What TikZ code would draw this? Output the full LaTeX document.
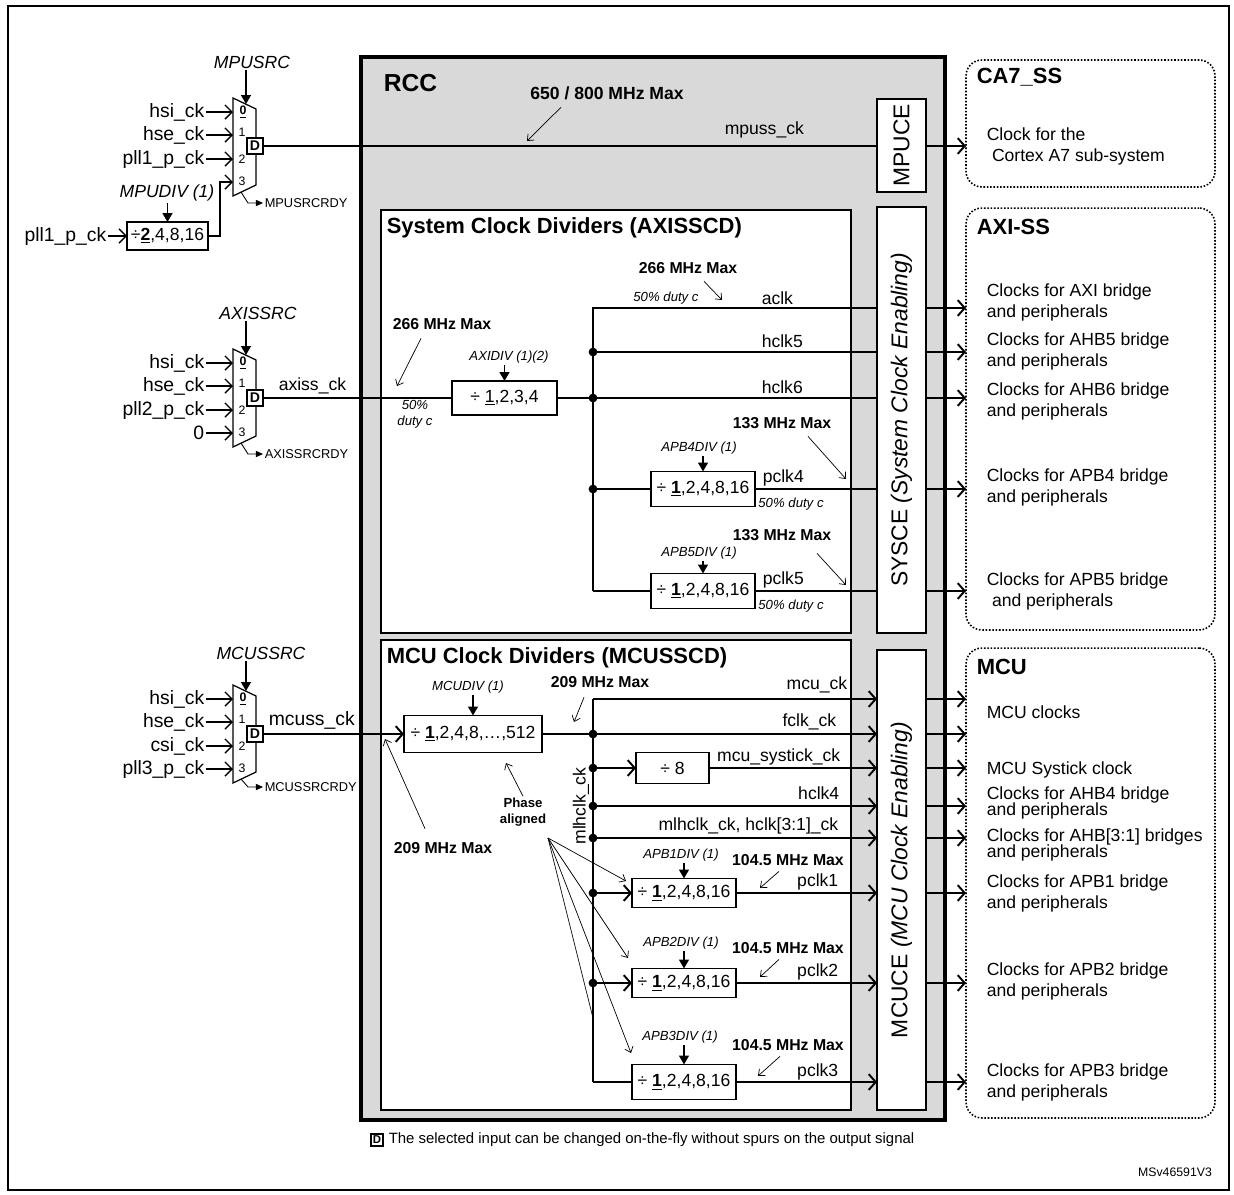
\documentclass[tikz,border=0pt]{standalone}
\usepackage{fontspec}
\setmainfont{Liberation Sans}
\usepackage{xcolor}
\usepackage{tikz}
\usetikzlibrary{arrows.meta, positioning, calc}
\definecolor{rccfill}{HTML}{D9D9D9}

\begin{document}
\begin{tikzpicture}[
    x=0.02cm, y=-0.02cm,
    font=\fontsize{10}{12}\selectfont,
    every node/.style={inner sep=1pt, outer sep=0pt},
    sig/.style={line width=1.3pt},
    sigarrow/.style={line width=1.3pt, -{Straight Barb[length=4pt,width=9pt,line width=1.1pt]}},
    inarrow/.style={line width=0.8pt, -{Straight Barb[length=4pt,width=8pt]}},
    ctrl/.style={line width=1pt, -{Triangle[length=5pt,width=5.5pt]}},
    note/.style={line width=0.4pt, -{Straight Barb[length=3pt,width=5pt]}},
    rdyarrow/.style={line width=0.5pt, -{Triangle[length=4pt,width=3.5pt]}},
    jdot/.style={circle, fill, inner sep=0pt, minimum size=5pt},
    mux/.style={line width=0.7pt, fill=white},
    muxnum/.style={font=\fontsize{7}{8}\selectfont, inner sep=0pt},
    inlbl/.style={anchor=east, font=\fontsize{11}{13}\selectfont},
    seltxt/.style={font=\itshape\fontsize{10}{12}\selectfont},
    rdytxt/.style={anchor=west, font=\fontsize{7.3}{9}\selectfont},
    dflag/.style={draw, line width=0.6pt, fill=white, font=\bfseries\fontsize{8}{9}\selectfont, minimum size=0.32cm, inner sep=0pt},
    divbox/.style={draw, line width=0.7pt, fill=white, inner sep=0pt, minimum width=2.08cm, minimum height=0.7cm},
    divctl/.style={font=\itshape\fontsize{7.5}{9}\selectfont},
    maxtxt/.style={font=\bfseries\fontsize{9}{11}\selectfont},
    dutytxt/.style={font=\itshape\fontsize{7.5}{9}\selectfont},
    head/.style={anchor=west, font=\bfseries\fontsize{12.5}{15}\selectfont},
    enbox/.style={draw, line width=0.7pt, fill=white, minimum width=0.98cm, inner sep=0pt},
    entxt/.style={rotate=90, font=\fontsize{13}{15}\selectfont},
    subsys/.style={draw, densely dotted, line width=0.9pt, rounded corners=9pt, minimum width=4.98cm},
    sstxt/.style={anchor=west, align=left},
    tight/.style={anchor=west, align=left, font=\fontsize{10}{9.4}\selectfont}
]
\useasboundingbox (0,0) rectangle (1234,1194);
\draw[line width=1pt] (8,6) rectangle (1229,1190);

% RCC block and its inner blocks
\node[draw, line width=2.3pt, fill=rccfill, minimum width=11.68cm, minimum height=21.26cm] (rcc) at (653,588.5) {};
\node[head, font=\bfseries\fontsize{14}{16}\selectfont] (rcctxt) at (382,83) {RCC};
\node[draw, line width=0.7pt, fill=white, minimum width=9.4cm, minimum height=8.46cm] (scd) at (616,421.5) {};
\node[head] (scdtxt) at (385,228) {System Clock Dividers (AXISSCD)};
\node[draw, line width=0.7pt, fill=white, minimum width=9.4cm, minimum height=9.4cm] (mcd) at (616,875) {};
\node[head] (mcdtxt) at (385,658) {MCU Clock Dividers (MCUSSCD)};

\node[enbox, minimum height=1.86cm] (mpuce) at (901.5,145.5) {};
\node[entxt] (mpucetxt) at (mpuce) {MPUCE};
\node[enbox, minimum height=8.52cm] (sysce) at (901.5,420) {};
\node[entxt] (syscetxt) at (sysce) {SYSCE \textit{(System Clock Enabling)}};
\node[enbox, minimum height=9.2cm] (mcuce) at (901.5,880) {};
\node[entxt] (mcucetxt) at (mcuce) {MCUCE \textit{(MCU Clock Enabling)}};

% sub-systems
\node[subsys, minimum height=2.54cm] (ca7) at (1090.5,123.5) {};
\node[head] (ca7txt) at (975,77) {CA7\_SS};
\node[sstxt] (ca7desc) at (985,146) {Clock for the\\\hspace*{3pt}Cortex A7 sub-system};
\node[subsys, minimum height=8.44cm] (axiss) at (1090.5,419) {};
\node[head] (axitxt) at (975,227) {AXI-SS};
\node[sstxt] (axidesc) at (985,302) {Clocks for AXI bridge\\and peripherals};
\node[sstxt] (ahb5desc) at (985,351) {Clocks for AHB5 bridge\\and peripherals};
\node[sstxt] (ahb6desc) at (985,401) {Clocks for AHB6 bridge\\and peripherals};
\node[sstxt] (apb4desc) at (985,487) {Clocks for APB4 bridge\\and peripherals};
\node[sstxt] (apb5desc) at (985,591) {Clocks for APB5 bridge\\\hspace*{3pt}and peripherals};
\node[subsys, minimum height=9.4cm] (mcuss) at (1090.5,883) {};
\node[head] (mcutxt) at (975,667) {MCU};
\node[sstxt] (mcudesc) at (985,712) {MCU clocks};
\node[sstxt] (tickdesc) at (985,770) {MCU Systick clock};
\node[tight] (ahb4desc) at (985,803) {Clocks for AHB4 bridge\\and peripherals};
\node[tight] (ahb31desc) at (985,845) {Clocks for AHB[3:1] bridges\\and peripherals};
\node[sstxt] (apb1desc) at (985,893) {Clocks for APB1 bridge\\and peripherals};
\node[sstxt] (apb2desc) at (985,981) {Clocks for APB2 bridge\\and peripherals};
\node[sstxt] (apb3desc) at (985,1082) {Clocks for APB3 bridge\\and peripherals};

% MPU clock selection
\draw[mux] (233,98) -- (256,109) -- (256,185) -- (233,196) -- cycle;
\coordinate (mpumux) at (233,147);
\coordinate (mpusel) at (246,104);
\coordinate (mpubot) at (241,192);
\node[seltxt] (mpusrc) at (252,62) {MPUSRC};
\draw[ctrl] (mpusrc.south -| mpusel) -- (mpusel);
\node[inlbl] (mpuin0) at (206,112) {hsi\_ck};
\node[inlbl] (mpuin1) at (206,135) {hse\_ck};
\node[inlbl] (mpuin2) at (206,159) {pll1\_p\_ck};
\draw[inarrow] (mpuin0.east) -- (mpuin0 -| mpumux);
\draw[inarrow] (mpuin1.east) -- (mpuin1 -| mpumux);
\draw[inarrow] (mpuin2.east) -- (mpuin2 -| mpumux);
\node[muxnum] (mpun0) at (243,112) {\underline{\textbf{0}}};
\node[muxnum] (mpun1) at (242,132) {1};
\node[muxnum] (mpun2) at (242,159) {2};
\node[muxnum] (mpun3) at (242,181) {3};
\node[dflag] (mpud) at (255,146) {D};
\node[rdytxt] (mpurdy) at (263,203) {MPUSRCRDY};
\draw[rdyarrow] (mpubot) -- (248,203) -- (mpurdy.west);
\node[divbox, minimum width=1.62cm, minimum height=0.56cm] (mpudiv) at (167.5,236) {÷\underline{\textbf{2}},4,8,16};
\node[seltxt] (mpudivsel) at (167,193) {MPUDIV (1)};
\draw[ctrl] (mpudivsel.south -| mpudiv.north) -- (mpudiv.north);
\node[inlbl] (mpupll) at (108,236) {pll1\_p\_ck};
\draw[inarrow] (mpupll.east) -- (mpudiv.west);
\coordinate (mpuin3) at (233,182);
\draw[inarrow] (mpudiv.east) -- ++(12,0) |- (mpuin3);

\draw[sig] (mpud.east) -- (mpud -| mpuce.west);
\node[anchor=west] (mpussck) at (723,130) {mpuss\_ck};
\draw[sigarrow] (mpud -| mpuce.east) -- (mpud -| ca7.west);
\node[maxtxt, font=\bfseries\fontsize{10}{12}\selectfont] (mpumax) at (607,93) {650 / 800 MHz Max};
\coordinate (mputap) at (527,141);
\draw[note] ($(mpumax.south)+(-46,6)$) -- (mputap);

% AXI clock selection
\draw[mux] (233,349) -- (256,360) -- (256,436) -- (233,447) -- cycle;
\coordinate (aximux) at (233,398);
\coordinate (axisel) at (246,355);
\coordinate (axibot) at (241,443);
\node[seltxt] (axisrc) at (258,313) {AXISSRC};
\draw[ctrl] (axisrc.south -| axisel) -- (axisel);
\node[inlbl] (axiin0) at (206,363) {hsi\_ck};
\node[inlbl] (axiin1) at (206,386) {hse\_ck};
\node[inlbl] (axiin2) at (206,410) {pll2\_p\_ck};
\node[inlbl] (axiin3) at (206,433) {0};
\draw[inarrow] (axiin0.east) -- (axiin0 -| aximux);
\draw[inarrow] (axiin1.east) -- (axiin1 -| aximux);
\draw[inarrow] (axiin2.east) -- (axiin2 -| aximux);
\draw[inarrow] (axiin3.east) -- (axiin3 -| aximux);
\node[muxnum] (axin0) at (243,363) {\underline{\textbf{0}}};
\node[muxnum] (axin1) at (242,383) {1};
\node[muxnum] (axin2) at (242,410) {2};
\node[muxnum] (axin3) at (242,432) {3};
\node[dflag] (axid) at (255,398) {D};
\node[rdytxt] (axirdy) at (263,454) {AXISSRCRDY};
\draw[rdyarrow] (axibot) -- (248,454) -- (axirdy.west);
\node[anchor=west] (axissck) at (277,386) {axiss\_ck};

\node[divbox, minimum width=2.1cm, minimum height=0.68cm] (axidiv) at (504.5,398) {÷ \underline{1},2,3,4};
\node[divctl] (axidivsel) at (509,357) {AXIDIV (1)(2)};
\draw[ctrl] (axidivsel.south -| axidiv.north) -- (axidiv.north);
\draw[sig] (axid.east) -- (axidiv.west);
\node[maxtxt] (aximax) at (442,324) {266 MHz Max};
\coordinate (aximaxtap) at (397,386);
\draw[note] ($(aximax.south)+(-21,7)$) -- (aximaxtap);
\node[dutytxt, align=center] (axiduty) at (415,414) {50\%\\duty c};

\coordinate (aclkb) at (593,308);
\coordinate (hclk5b) at (593,352);
\coordinate (hclk6b) at (593,398);
\coordinate (pclk4b) at (593,489);
\coordinate (pclk5b) at (593,591);
\node[divbox] (apb4div) at (703,489) {÷ \underline{\textbf{1}},2,4,8,16};
\node[divbox] (apb5div) at (703,591) {÷ \underline{\textbf{1}},2,4,8,16};
\node[divctl] (apb4sel) at (699,448) {APB4DIV (1)};
\node[divctl] (apb5sel) at (699,553) {APB5DIV (1)};
\draw[ctrl] (apb4sel.south -| apb4div.north) -- (apb4div.north);
\draw[ctrl] (apb5sel.south -| apb5div.north) -- (apb5div.north);

\draw[sig] (pclk5b) -- (aclkb) -- (aclkb -| sysce.west);
\draw[sig] (hclk5b) -- (hclk5b -| sysce.west);
\draw[sig] (axidiv.east) -- (axidiv -| sysce.west);
\draw[sig] (pclk4b) -- (apb4div.west);
\draw[sig] (apb4div.east) -- (apb4div -| sysce.west);
\draw[sig] (pclk5b) -- (apb5div.west);
\draw[sig] (apb5div.east) -- (apb5div -| sysce.west);
\node[jdot] (hclk5dot) at (hclk5b) {};
\node[jdot] (hclk6dot) at (hclk6b) {};
\node[jdot] (pclk4dot) at (pclk4b) {};

\node[anchor=west] (aclktxt) at (760,298) {aclk};
\node[anchor=west] (hclk5txt) at (760,341) {hclk5};
\node[anchor=west] (hclk6txt) at (760,387) {hclk6};
\node[anchor=west] (pclk4txt) at (761,478) {pclk4};
\node[anchor=west] (pclk5txt) at (761,580) {pclk5};
\node[maxtxt] (aclkmax) at (688,268) {266 MHz Max};
\node[dutytxt] (aclkduty) at (666,298) {50\% duty c};
\coordinate (aclktap) at (722,300);
\draw[note] ($(aclkmax.south)+(16,6)$) -- (aclktap);
\node[maxtxt] (pclk4max) at (782,423) {133 MHz Max};
\coordinate (pclk4tap) at (846,479);
\draw[note] ($(pclk4max.south)+(26,6)$) -- (pclk4tap);
\node[dutytxt] (pclk4duty) at (791,504) {50\% duty c};
\node[maxtxt] (pclk5max) at (782,535) {133 MHz Max};
\coordinate (pclk5tap) at (846,585);
\draw[note] ($(pclk5max.south)+(35,11)$) -- (pclk5tap);
\node[dutytxt] (pclk5duty) at (791,606) {50\% duty c};

\draw[sigarrow] (aclkb -| sysce.east) -- (aclkb -| axiss.west);
\draw[sigarrow] (hclk5b -| sysce.east) -- (hclk5b -| axiss.west);
\draw[sigarrow] (hclk6b -| sysce.east) -- (hclk6b -| axiss.west);
\draw[sigarrow] (pclk4b -| sysce.east) -- (pclk4b -| axiss.west);
\draw[sigarrow] (pclk5b -| sysce.east) -- (pclk5b -| axiss.west);

% MCU clock selection
\draw[mux] (233,685) -- (256,696) -- (256,772) -- (233,783) -- cycle;
\coordinate (mcumux) at (233,734);
\coordinate (mcusel) at (246,691);
\coordinate (mcubot) at (241,779);
\node[seltxt] (mcusrc) at (261,653) {MCUSSRC};
\draw[ctrl] (mcusrc.south -| mcusel) -- (mcusel);
\node[inlbl] (mcuin0) at (206,699) {hsi\_ck};
\node[inlbl] (mcuin1) at (206,722) {hse\_ck};
\node[inlbl] (mcuin2) at (206,746) {csi\_ck};
\node[inlbl] (mcuin3) at (206,769) {pll3\_p\_ck};
\draw[inarrow] (mcuin0.east) -- (mcuin0 -| mcumux);
\draw[inarrow] (mcuin1.east) -- (mcuin1 -| mcumux);
\draw[inarrow] (mcuin2.east) -- (mcuin2 -| mcumux);
\draw[inarrow] (mcuin3.east) -- (mcuin3 -| mcumux);
\node[muxnum] (mcun0) at (243,699) {\underline{\textbf{0}}};
\node[muxnum] (mcun1) at (242,719) {1};
\node[muxnum] (mcun2) at (242,746) {2};
\node[muxnum] (mcun3) at (242,768) {3};
\node[dflag] (mcud) at (255,734) {D};
\node[rdytxt] (mcurdy) at (263,787) {MCUSSRCRDY};
\draw[rdyarrow] (mcubot) -- (248,787) -- (mcurdy.west);
\node[anchor=west, font=\fontsize{11}{13}\selectfont] (mcussck) at (267,720) {mcuss\_ck};

\node[divbox, minimum width=2.76cm, minimum height=0.74cm] (mcudiv) at (473,734) {÷ \underline{\textbf{1}},2,4,8,…,512};
\node[divctl] (mcudivsel) at (468,687) {MCUDIV (1)};
\draw[ctrl] (mcudivsel.south -| mcudiv.north) -- (mcudiv.north);
\draw[sigarrow] (mcud.east) -- (mcudiv.west);
\node[maxtxt] (mcuinmax) at (443,848) {209 MHz Max};
\coordinate (mcuintap) at (385,739);
\draw[note] ($(mcuinmax.north)+(-18,-12)$) -- (mcuintap);
\node[maxtxt] (mcuoutmax) at (600,682) {209 MHz Max};
\coordinate (mcuouttap) at (574,722);
\draw[note] ($(mcuoutmax.south)+(-16,8)$) -- (mcuouttap);

\coordinate (mcuckb) at (593,699);
\coordinate (fclkb) at (593,734);
\coordinate (systickb) at (593,768);
\coordinate (hclk4b) at (593,806);
\coordinate (mlhclkb) at (593,838);
\coordinate (pclk1b) at (593,893);
\coordinate (pclk2b) at (593,983);
\coordinate (pclk3b) at (593,1082);
\node[divbox, minimum width=1.46cm, minimum height=0.62cm] (div8) at (672.5,768) {÷ 8};
\node[divbox, minimum height=0.58cm] (apb1div) at (684,893) {÷ \underline{\textbf{1}},2,4,8,16};
\node[divbox, minimum height=0.58cm] (apb2div) at (684,983) {÷ \underline{\textbf{1}},2,4,8,16};
\node[divbox] (apb3div) at (684,1082) {÷ \underline{\textbf{1}},2,4,8,16};
\node[divctl] (apb1sel) at (681,855) {APB1DIV (1)};
\node[divctl] (apb2sel) at (681,943) {APB2DIV (1)};
\node[divctl] (apb3sel) at (680,1037) {APB3DIV (1)};
\draw[ctrl] (apb1sel.south -| apb1div.north) -- (apb1div.north);
\draw[ctrl] (apb2sel.south -| apb2div.north) -- (apb2div.north);
\draw[ctrl] (apb3sel.south -| apb3div.north) -- (apb3div.north);

\draw[sig] (pclk3b) -- (mcuckb);
\draw[sigarrow] (mcuckb) -- (mcuckb -| mcuce.west);
\draw[sigarrow] (mcudiv.east) -- (mcudiv -| mcuce.west);
\draw[sigarrow] (systickb) -- (div8.west);
\draw[sigarrow] (div8.east) -- (div8 -| mcuce.west);
\draw[sigarrow] (hclk4b) -- (hclk4b -| mcuce.west);
\draw[sigarrow] (mlhclkb) -- (mlhclkb -| mcuce.west);
\draw[sigarrow] (pclk1b) -- (apb1div.west);
\draw[sigarrow] (apb1div.east) -- (apb1div -| mcuce.west);
\draw[sigarrow] (pclk2b) -- (apb2div.west);
\draw[sigarrow] (apb2div.east) -- (apb2div -| mcuce.west);
\draw[sig] (pclk3b) -- (apb3div.west);
\draw[sigarrow] (apb3div.east) -- (apb3div -| mcuce.west);
\node[jdot] (fclkdot) at (fclkb) {};
\node[jdot] (systickdot) at (systickb) {};
\node[jdot] (hclk4dot) at (hclk4b) {};
\node[jdot] (mlhclkdot) at (mlhclkb) {};
\node[jdot] (pclk1dot) at (pclk1b) {};
\node[jdot] (pclk2dot) at (pclk2b) {};

\node[anchor=east] (mcucktxt) at (849,685) {mcu\_ck};
\node[anchor=east] (fclktxt) at (838,722) {fclk\_ck};
\node[anchor=east] (systicktxt) at (842,757) {mcu\_systick\_ck};
\node[anchor=east] (hclk4txt) at (841,793) {hclk4};
\node[anchor=east] (mlhclktxt) at (840,826) {mlhclk\_ck, hclk[3:1]\_ck};
\node[anchor=east] (pclk1txt) at (840,882) {pclk1};
\node[anchor=east] (pclk2txt) at (840,972) {pclk2};
\node[anchor=east] (pclk3txt) at (840,1072) {pclk3};
\node[rotate=90] (mlhclkbus) at (581,806) {mlhclk\_ck};

\node[maxtxt] (pclk1max) at (788,860) {104.5 MHz Max};
\node[maxtxt] (pclk2max) at (788,948) {104.5 MHz Max};
\node[maxtxt] (pclk3max) at (788,1045) {104.5 MHz Max};
\coordinate (pclk1tap) at (760,888);
\coordinate (pclk2tap) at (760,977);
\coordinate (pclk3tap) at (758,1076);
\draw[note] ($(pclk1max.south)+(-9,4)$) -- (pclk1tap);
\draw[note] ($(pclk2max.south)+(-9,4)$) -- (pclk2tap);
\draw[note] ($(pclk3max.south)+(-8,4)$) -- (pclk3tap);

\node[font=\bfseries\fontsize{7.5}{9}\selectfont, align=center] (phase) at (523,812) {Phase\\aligned};
\coordinate (phasefan) at (548,838);
\coordinate (phasebus) at (593,1018);
\draw[note] (phase.north) -- (506,763);
\draw[note] (phasefan) -- (626,881);
\draw[note] (phasefan) -- (628,958);
\draw[note] (phasefan) -- (631,1053);
\draw[line width=0.4pt] (phasefan) -- (phasebus);

\draw[sigarrow] (mcuckb -| mcuce.east) -- (mcuckb -| mcuss.west);
\draw[sigarrow] (fclkb -| mcuce.east) -- (fclkb -| mcuss.west);
\draw[sigarrow] (systickb -| mcuce.east) -- (systickb -| mcuss.west);
\draw[sigarrow] (hclk4b -| mcuce.east) -- (hclk4b -| mcuss.west);
\draw[sigarrow] (mlhclkb -| mcuce.east) -- (mlhclkb -| mcuss.west);
\draw[sigarrow] (pclk1b -| mcuce.east) -- (pclk1b -| mcuss.west);
\draw[sigarrow] (pclk2b -| mcuce.east) -- (pclk2b -| mcuss.west);
\draw[sigarrow] (pclk3b -| mcuce.east) -- (pclk3b -| mcuss.west);

% legend
\node[dflag, minimum size=0.24cm, font=\bfseries\fontsize{6.5}{7}\selectfont] (legd) at (377,1140) {D};
\node[anchor=west, font=\fontsize{8.5}{10}\selectfont] (legtxt) at (387,1140) {The selected input can be changed on-the-fly without spurs on the output signal};
\node[font=\fontsize{7}{8}\selectfont] (docid) at (1175,1172) {MSv46591V3};
\end{tikzpicture}
\end{document}
